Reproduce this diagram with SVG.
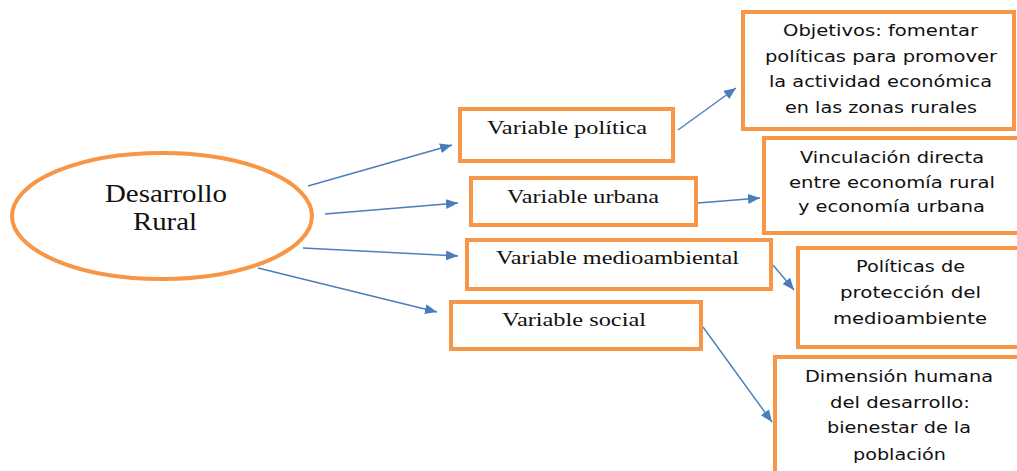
<svg xmlns="http://www.w3.org/2000/svg" width="1017" height="471" viewBox="0 0 1017 471">
<defs>
<style>
.box{fill:#fff;stroke:#F79646;stroke-width:4}
.conn{stroke:#4A7EBB;stroke-width:1.4;fill:none}
.ser{font-family:"Liberation Serif","Times New Roman",serif;fill:#111;font-size:18px}
.big{font-family:"Liberation Serif","Times New Roman",serif;fill:#111;font-size:25px}
.san{font-family:"DejaVu Sans","Verdana",sans-serif;fill:#111;font-size:15.5px}
</style>
<marker id="ah" markerUnits="userSpaceOnUse" markerWidth="13" markerHeight="10" refX="12" refY="5" orient="auto">
<path d="M0,0 L12,5 L0,10 Z" fill="#4A7EBB"/>
</marker>
</defs>
<rect width="1017" height="471" fill="#fff"/>
<g id="connectors">
<line class="conn" x1="308" y1="186" x2="452" y2="145" marker-end="url(#ah)"/>
<line class="conn" x1="325" y1="214" x2="458" y2="203" marker-end="url(#ah)"/>
<line class="conn" x1="303" y1="248" x2="458" y2="256" marker-end="url(#ah)"/>
<line class="conn" x1="258" y1="268" x2="437" y2="312" marker-end="url(#ah)"/>
<line class="conn" x1="678" y1="130" x2="736" y2="88" marker-end="url(#ah)"/>
<line class="conn" x1="698" y1="203" x2="760" y2="198" marker-end="url(#ah)"/>
<line class="conn" x1="773" y1="265" x2="794" y2="290" marker-end="url(#ah)"/>
<line class="conn" x1="703" y1="327" x2="772" y2="422" marker-end="url(#ah)"/>
</g>
<g id="n-desarrollo">
<ellipse class="box" cx="162" cy="216" rx="150" ry="63"/>
<text class="big" x="105" y="202" textLength="122" lengthAdjust="spacingAndGlyphs">Desarrollo</text>
<text class="big" x="133" y="230" textLength="64" lengthAdjust="spacingAndGlyphs">Rural</text>
</g>
<g id="n-politica">
<rect class="box" x="460" y="109" width="213" height="52"/>
<text class="ser" x="487" y="134" textLength="160" lengthAdjust="spacingAndGlyphs">Variable política</text>
</g>
<g id="n-urbana">
<rect class="box" x="471" y="178" width="225" height="47"/>
<text class="ser" x="507" y="203" textLength="152" lengthAdjust="spacingAndGlyphs">Variable urbana</text>
</g>
<g id="n-medio">
<rect class="box" x="467" y="240" width="304" height="49"/>
<text class="ser" x="496" y="264" textLength="243" lengthAdjust="spacingAndGlyphs">Variable medioambiental</text>
</g>
<g id="n-social">
<rect class="box" x="451" y="302" width="250" height="47"/>
<text class="ser" x="502" y="326" textLength="144" lengthAdjust="spacingAndGlyphs">Variable social</text>
</g>
<g id="n-objetivos">
<rect class="box" x="743" y="12" width="271" height="117"/>
<text class="san" x="783" y="36" textLength="195" lengthAdjust="spacingAndGlyphs">Objetivos: fomentar</text>
<text class="san" x="765" y="62" textLength="232" lengthAdjust="spacingAndGlyphs">políticas para promover</text>
<text class="san" x="769" y="87" textLength="223" lengthAdjust="spacingAndGlyphs">la actividad económica</text>
<text class="san" x="785" y="113" textLength="192" lengthAdjust="spacingAndGlyphs">en las zonas rurales</text>
</g>
<g id="n-vinculacion">
<rect class="box" x="764" y="138" width="260" height="95"/>
<text class="san" x="800" y="163" textLength="184" lengthAdjust="spacingAndGlyphs">Vinculación directa</text>
<text class="san" x="789" y="188" textLength="206" lengthAdjust="spacingAndGlyphs">entre economía rural</text>
<text class="san" x="798" y="212" textLength="187" lengthAdjust="spacingAndGlyphs">y economía urbana</text>
</g>
<g id="n-proteccion">
<rect class="box" x="798" y="248" width="226" height="99"/>
<text class="san" x="856" y="272" textLength="109" lengthAdjust="spacingAndGlyphs">Políticas de</text>
<text class="san" x="840" y="298" textLength="141" lengthAdjust="spacingAndGlyphs">protección del</text>
<text class="san" x="833" y="324" textLength="154" lengthAdjust="spacingAndGlyphs">medioambiente</text>
</g>
<g id="n-dimension">
<rect class="box" x="775" y="357" width="249" height="130"/>
<text class="san" x="805" y="382" textLength="188" lengthAdjust="spacingAndGlyphs">Dimensión humana</text>
<text class="san" x="830" y="408" textLength="140" lengthAdjust="spacingAndGlyphs">del desarrollo:</text>
<text class="san" x="827" y="433" textLength="144" lengthAdjust="spacingAndGlyphs">bienestar de la</text>
<text class="san" x="853" y="460" textLength="93" lengthAdjust="spacingAndGlyphs">población</text>
</g>
</svg>
